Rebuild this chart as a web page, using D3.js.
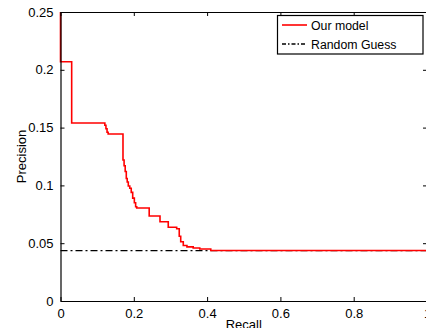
<!DOCTYPE html>
<html>
<head>
<meta charset="utf-8">
<script src="https://cdn.jsdelivr.net/npm/d3@7"></script>
<style>
  body { margin: 0; background: #fff; }
  svg { display: block; font-family: "Liberation Sans", Arial, Helvetica, sans-serif; }
</style>
</head>
<body>
<div id="chart"></div>
<script>
// Precision-recall curve data
const recall    = [0, 0, 0.0305, 0.121, 0.124, 0.127, 0.13, 0.1705, 0.1735, 0.1765, 0.1795, 0.182, 0.185, 0.189, 0.193, 0.197, 0.2015, 0.205, 0.208, 0.242, 0.2715, 0.294, 0.317, 0.324, 0.328, 0.335, 0.345, 0.362, 0.38, 0.41, 1.0];
const precision = [0.25, 0.207, 0.154, 0.152, 0.149, 0.146, 0.1445, 0.122, 0.117, 0.112, 0.106, 0.103, 0.0995, 0.0975, 0.094, 0.089, 0.085, 0.0815, 0.0805, 0.0735, 0.0686, 0.0638, 0.0625, 0.056, 0.0513, 0.048, 0.0468, 0.0458, 0.045, 0.0437, 0.0437];
const randomGuess = 0.0435;

const xTicks = [0, 0.2, 0.4, 0.6, 0.8, 1];
const yTicks = [0, 0.05, 0.1, 0.15, 0.2, 0.25];
const seriesNames = ["Our model", "Random Guess"];

const width = 426, height = 328;
const plot = { left: 60.5, right: 427, top: 12, bottom: 301 };

const svg = d3.select("#chart").append("svg")
    .attr("width", width)
    .attr("height", height);

const xScale = d3.scaleLinear().domain([0, 1]).range([plot.left, plot.right]);
const yScale = d3.scaleLinear().domain([0, 0.25]).range([plot.bottom, plot.top]);

// Random guess baseline (dash-dot)
svg.append("line")
   .attr("x1", xScale(0)).attr("x2", xScale(1))
   .attr("y1", yScale(randomGuess)).attr("y2", yScale(randomGuess))
   .attr("stroke", "#000")
   .attr("stroke-width", 1.3)
   .attr("stroke-dasharray", "7,3,2,3");

// Our model curve
const points = recall.map((r, i) => [r, precision[i]]);
const line = d3.line()
    .x(d => xScale(d[0]))
    .y(d => yScale(d[1]))
    .curve(d3.curveStepAfter);

svg.append("path")
   .datum(points)
   .attr("fill", "none")
   .attr("stroke", "#ff0000")
   .attr("stroke-width", 1.6)
   .attr("d", line);

// Axes: MATLAB-style box with inward ticks on all four sides
const tickLen = 4;
svg.append("g")
   .attr("transform", "translate(0," + plot.bottom + ")")
   .call(d3.axisBottom(xScale).tickValues(xTicks).tickSizeInner(-tickLen).tickSizeOuter(0).tickPadding(8).tickFormat(d3.format("")));
svg.append("g")
   .attr("transform", "translate(0," + plot.top + ")")
   .call(d3.axisTop(xScale).tickValues(xTicks).tickSizeInner(-tickLen).tickSizeOuter(0).tickFormat(""));
svg.append("g")
   .attr("transform", "translate(" + plot.left + ",0)")
   .call(d3.axisLeft(yScale).tickValues(yTicks).tickSizeInner(-tickLen).tickSizeOuter(0).tickPadding(7).tickFormat(d3.format("")));
svg.append("g")
   .attr("transform", "translate(" + plot.right + ",0)")
   .call(d3.axisRight(yScale).tickValues(yTicks).tickSizeInner(-tickLen).tickSizeOuter(0).tickFormat(""));

svg.selectAll(".domain").attr("stroke", "#000").attr("stroke-width", 1.2);
svg.selectAll(".tick line").attr("stroke", "#000");
svg.selectAll(".tick text")
   .attr("fill", "#000")
   .style("font-size", "13px")
   .style("font-family", "'Liberation Sans', Arial, sans-serif");

// Axis titles
svg.append("text")
   .attr("x", (plot.left + plot.right) / 2)
   .attr("y", 329)
   .attr("text-anchor", "middle")
   .style("font-size", "13px")
   .text("Recall");
svg.append("text")
   .attr("transform", "translate(26," + ((plot.top + plot.bottom) / 2) + ") rotate(-90)")
   .attr("text-anchor", "middle")
   .style("font-size", "13px")
   .text("Precision");

// Legend
const legend = svg.append("g");
legend.append("rect")
   .attr("x", 277.5).attr("y", 15.5)
   .attr("width", 145.5).attr("height", 38.5)
   .attr("fill", "#fff")
   .attr("stroke", "#000")
   .attr("stroke-width", 1.2);
const legendStyles = [
    { stroke: "#ff0000", dash: null, width: 1.6 },
    { stroke: "#000", dash: "4,2,1.5,2", width: 1.3 }
];
seriesNames.forEach(function (name, i) {
    const y = 25 + i * 19;
    legend.append("line")
       .attr("x1", 282).attr("x2", 307)
       .attr("y1", y).attr("y2", y)
       .attr("stroke", legendStyles[i].stroke)
       .attr("stroke-width", legendStyles[i].width)
       .attr("stroke-dasharray", legendStyles[i].dash);
    legend.append("text")
       .attr("x", 311)
       .attr("y", y + 4.5)
       .style("font-size", "12.3px")
       .text(name);
});
</script>
</body>
</html>
